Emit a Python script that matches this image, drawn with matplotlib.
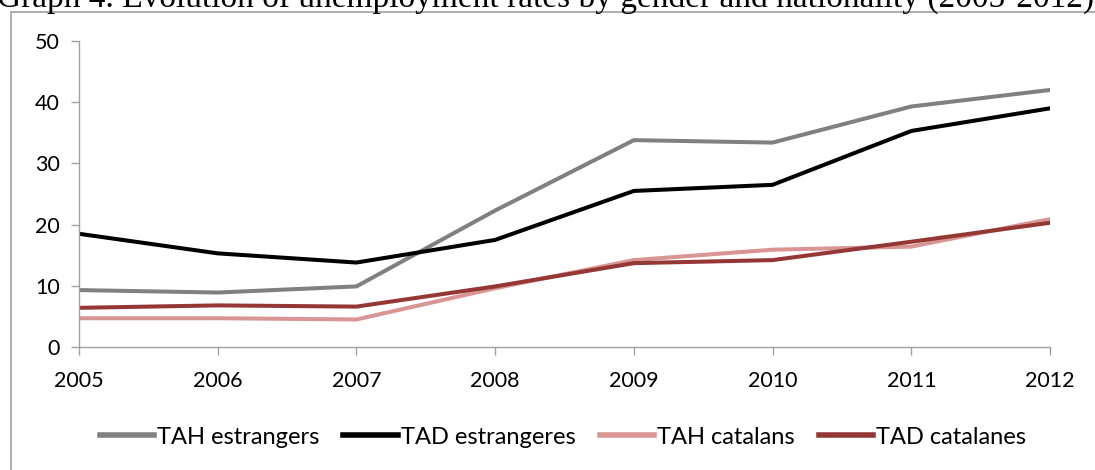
import matplotlib
matplotlib.use("Agg")
import matplotlib.pyplot as plt
from matplotlib.patches import Rectangle

years = ["2005", "2006", "2007", "2008", "2009", "2010", "2011", "2012"]
tah_estrangers = [9.3, 8.9, 9.9, 22.3, 33.8, 33.4, 39.3, 42.0]
tad_estrangeres = [18.5, 15.3, 13.8, 17.5, 25.5, 26.5, 35.3, 39.0]
tah_catalans = [4.7, 4.7, 4.5, 9.6, 14.2, 15.9, 16.4, 20.9]
tad_catalanes = [6.4, 6.8, 6.6, 9.9, 13.7, 14.2, 17.2, 20.3]
series_names = ["TAH estrangers", "TAD estrangeres", "TAH catalans", "TAD catalanes"]
colors = ["#808080", "#000000", "#D99594", "#953735"]
title = "Graph 4. Evolution of unemployment rates by gender and nationality (2005-2012)"

plt.rcParams['font.family'] = ['Lato', 'DejaVu Sans']

fig = plt.figure(figsize=(10.95, 4.70), dpi=100)
W, H = 1095, 470

# outer chart border
fig.patches.append(Rectangle((11 / W, -0.1), 1.2, (470 - 12) / H + 0.1,
                             transform=fig.transFigure, fill=False,
                             edgecolor="#A0A0A0", linewidth=1.2))

# title, cut at top as in the source
fig.text(-3 / W, 1 - 7 / H, title, family=['Liberation Serif'], fontsize=24,
         ha='left', va='baseline', color='black')

ax = fig.add_axes([79 / W, 1 - 347 / H, (1050 - 79) / W, (347 - 41) / H])
x = list(range(len(years)))
for vals, name, c in zip([tah_estrangers, tad_estrangeres, tah_catalans, tad_catalanes],
                         series_names, colors):
    ax.plot(x, vals, color=c, linewidth=2.9, label=name, solid_joinstyle='round')

ax.set_xlim(0, len(years) - 1)
ax.set_ylim(0, 50)
ax.set_yticks([0, 10, 20, 30, 40, 50])
ax.set_xticks(x)
ax.set_xticklabels(years)
for s in ['top', 'right']:
    ax.spines[s].set_visible(False)
for s in ['left', 'bottom']:
    ax.spines[s].set_color('#A0A0A0')
    ax.spines[s].set_linewidth(1.0)
ax.tick_params(axis='both', colors='#A0A0A0', labelcolor='black', labelsize=15.5,
               length=6, width=1.0)
ax.tick_params(axis='y', pad=8)
ax.tick_params(axis='x', pad=11)

leg = fig.legend(loc='center', bbox_to_anchor=(563 / W, 1 - 437 / H), ncol=4,
                 frameon=False, fontsize=17, handlelength=2.3, handletextpad=0.15,
                 columnspacing=1.0)
for l in leg.get_lines():
    l.set_linewidth(4.0)

fig.savefig("out.png", dpi=100)
